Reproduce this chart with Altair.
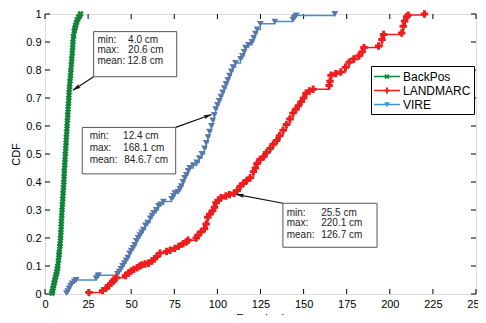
import math
import altair as alt
import pandas as pd

# ---------------- data ----------------
series_names = ["BackPos", "LANDMARC", "VIRE"]

backpos_err = [4.0, 4.3, 4.6, 5.0, 5.3, 5.7, 6.1, 6.5, 6.9, 7.2, 7.4, 7.8, 8.1, 8.3, 8.6,
               8.8, 9.0, 9.2, 9.4, 9.5, 9.7, 9.9, 10.1, 10.3, 10.5, 10.7, 10.9, 11.1, 11.2,
               11.4, 11.6, 11.8, 12.0, 12.2, 12.4, 12.6, 12.8, 13.0, 13.2, 13.4, 13.6, 13.8,
               14.0, 14.2, 14.5, 14.8, 15.0, 15.3, 15.5, 15.8, 16.0, 16.2, 16.5, 17.0, 17.4,
               17.8, 18.3, 18.8, 19.6, 20.6]
backpos_cdf = [0.003, 0.01, 0.02, 0.03, 0.04, 0.05, 0.06, 0.07, 0.08, 0.09, 0.10, 0.12, 0.14,
               0.15, 0.17, 0.18, 0.20, 0.22, 0.24, 0.26, 0.28, 0.30, 0.32, 0.34, 0.36, 0.38,
               0.40, 0.42, 0.44, 0.46, 0.48, 0.50, 0.52, 0.54, 0.56, 0.58, 0.60, 0.62, 0.64,
               0.66, 0.68, 0.70, 0.72, 0.74, 0.76, 0.78, 0.80, 0.82, 0.84, 0.86, 0.88, 0.90,
               0.92, 0.94, 0.95, 0.96, 0.97, 0.98, 0.99, 1.0]

vire_err = [12.4, 13.2, 14.0, 14.8, 15.6, 17.0, 18.1, 29.6, 30.5, 31.0, 42.0, 43.0, 44.0,
            45.0, 46.0, 47.0, 48.0, 49.0, 50.0, 51.0, 52.0, 53.0, 54.0, 55.0, 56.0, 57.0,
            58.2, 59.5, 61.0, 62.0, 63.0, 64.5, 65.8, 67.0, 68.7, 73.4, 74.5, 75.3, 77.0,
            78.2, 79.0, 80.0, 81.0, 82.0, 83.0, 84.0, 86.0, 88.0, 89.5, 91.0, 92.5, 93.5,
            94.5, 95.4, 96.5, 97.3, 98.2, 99.0, 100.0, 101.0, 102.0, 103.0, 104.0, 105.0,
            106.0, 107.0, 108.0, 109.0, 110.5, 113.4, 114.5, 115.5, 116.3, 118.0, 120.0,
            121.0, 122.0, 123.0, 124.9, 133.3, 143.8, 144.5, 145.0, 145.7, 168.1]
vire_cdf = [0.003, 0.01, 0.02, 0.03, 0.038, 0.045, 0.05, 0.056, 0.062, 0.067, 0.072, 0.08,
            0.09, 0.10, 0.11, 0.12, 0.13, 0.145, 0.155, 0.165, 0.175, 0.19, 0.20, 0.21, 0.22,
            0.23, 0.245, 0.255, 0.27, 0.28, 0.29, 0.30, 0.315, 0.32, 0.33, 0.34, 0.35, 0.36,
            0.365, 0.375, 0.385, 0.40, 0.415, 0.425, 0.44, 0.45, 0.46, 0.47, 0.485, 0.50,
            0.52, 0.54, 0.56, 0.58, 0.60, 0.62, 0.64, 0.66, 0.675, 0.69, 0.705, 0.72, 0.735,
            0.75, 0.765, 0.78, 0.795, 0.81, 0.825, 0.84, 0.85, 0.865, 0.88, 0.89, 0.90,
            0.915, 0.93, 0.945, 0.965, 0.973, 0.98, 0.985, 0.99, 0.995, 1.0]

landmarc_err = [25.5, 33.4, 35.3, 37.0, 38.2, 39.2, 40.0, 41.4, 46.7, 48.6, 50.0, 51.5, 53.4,
                55.0, 56.2, 58.0, 60.0, 62.0, 63.5, 64.8, 66.7, 70.5, 72.6, 75.3, 77.5, 80.1,
                82.0, 83.0, 87.7, 88.7, 90.5, 92.5, 93.5, 94.4, 95.5, 97.3, 98.3, 99.2, 100.5,
                102.1, 104.9, 107.0, 109.7, 111.5, 113.3, 115.0, 117.0, 119.0, 120.9, 122.0,
                123.0, 124.7, 126.8, 128.5, 130.6, 132.4, 134.4, 136.0, 138.1, 140.0, 142.0,
                143.8, 145.5, 147.0, 148.6, 150.0, 151.4, 153.3, 155.5, 164.8, 165.3, 165.9,
                168.6, 171.6, 174.3, 176.4, 179.1, 182.1, 184.0, 185.0, 193.5, 195.5, 196.4,
                206.9, 207.8, 208.6, 209.8, 210.7, 220.1]
landmarc_cdf = [0.005, 0.012, 0.02, 0.03, 0.038, 0.045, 0.05, 0.058, 0.066, 0.076, 0.082,
                0.088, 0.094, 0.10, 0.104, 0.107, 0.11, 0.118, 0.126, 0.134, 0.146, 0.152,
                0.156, 0.163, 0.17, 0.18, 0.186, 0.192, 0.20, 0.21, 0.222, 0.233, 0.25, 0.274,
                0.285, 0.297, 0.31, 0.326, 0.335, 0.344, 0.35, 0.355, 0.36, 0.37, 0.385, 0.395,
                0.405, 0.415, 0.437, 0.45, 0.466, 0.48, 0.49, 0.505, 0.52, 0.535, 0.548, 0.565,
                0.585, 0.605, 0.625, 0.646, 0.66, 0.672, 0.687, 0.70, 0.717, 0.725, 0.731,
                0.745, 0.76, 0.781, 0.787, 0.793, 0.81, 0.828, 0.839, 0.851, 0.865, 0.88,
                0.886, 0.909, 0.927, 0.932, 0.956, 0.975, 0.99, 0.996, 1.0]

x_ticks = [0, 25, 50, 75, 100, 125, 150, 175, 200, 225, 250]
y_ticks = [0, 0.1, 0.2, 0.3, 0.4, 0.5, 0.6, 0.7, 0.8, 0.9, 1.0]

ann_label = ["min:", "max:", "mean:"]
ann_values = [["4.0 cm", "20.6 cm", "12.8 cm"],
              ["12.4 cm", "168.1 cm", "84.6.7 cm"],
              ["25.5 cm", "220.1 cm", "126.7 cm"]]

# ---------------- layout / style ----------------
W, H = 431, 280
X_MAX = 250
FONT = "Liberation Sans"
GREEN, RED, BLUE_LINE, BLUE_MARK = "#11853a", "#ee1d1d", "#3a92d8", "#5a77aa"

# annotation boxes in data units: x0, x1, ytop, ybottom
boxes = [(28.2, 76.4, 0.937, 0.776), (21.6, 75.8, 0.595, 0.429), (138.0, 192.6, 0.324, 0.167)]
text_rows_y = [[0.907, 0.870, 0.832], [0.565, 0.522, 0.480], [0.291, 0.252, 0.212]]
label_x = [30.4, 25.9, 140.2]
value_x = [[48.2, 48.2, 47.8], [45.3, 45.3, 45.9], [160.2, 160.2, 160.2]]
# arrows: tail (x, y) -> head (x, y)
arrows = [((28.2, 0.776), (16.2, 0.728)),
          ((75.8, 0.595), (96.6, 0.641)),
          ((138.0, 0.324), (110.8, 0.356))]

xscale = alt.Scale(domain=[0, X_MAX], nice=False, zero=False)
yscale = alt.Scale(domain=[0, 1], nice=False, zero=False)
xaxis = alt.Axis(values=x_ticks, format="d", title="Error (cm)", ticks=False, grid=False,
                 domain=False, labelFlush=False, labelOverlap=False, labelPadding=4,
                 titlePadding=3, labelFont=FONT, titleFont=FONT, labelFontSize=11,
                 titleFontSize=11, titleFontWeight="normal", labelColor="black",
                 titleColor="black")
yaxis = alt.Axis(values=y_ticks, format=".1~f", title="CDF", ticks=False, grid=False,
                 domain=False, labelFlush=False, labelOverlap=False, labelPadding=4,
                 titlePadding=4, labelFont=FONT, titleFont=FONT, labelFontSize=11,
                 titleFontSize=11, titleFontWeight="normal", labelColor="black",
                 titleColor="black")
X = alt.X("x:Q", scale=xscale, axis=xaxis)
Y = alt.Y("y:Q", scale=yscale, axis=yaxis)

layers = []

# inner tick marks (MATLAB style)
xt = alt.Chart(pd.DataFrame({"x": x_ticks}))
yt = alt.Chart(pd.DataFrame({"y": y_ticks}))
layers.append(xt.mark_rule(color="black", strokeWidth=1).encode(x=X, y=alt.value(H), y2=alt.value(H - 5)))
layers.append(xt.mark_rule(color="black", strokeWidth=1).encode(x=X, y=alt.value(0), y2=alt.value(5)))
layers.append(yt.mark_rule(color="black", strokeWidth=1).encode(y=Y, x=alt.value(0), x2=alt.value(5)))
layers.append(yt.mark_rule(color="black", strokeWidth=1).encode(y=Y, x=alt.value(W), x2=alt.value(W - 5)))


def series(err, cdf, line_color, mark_color, shape, size, angle=0, lw=1.5):
    base = alt.Chart(pd.DataFrame({"x": err, "y": cdf}))
    line = base.mark_line(interpolate="step-after", color=line_color, strokeWidth=lw).encode(x=X, y=Y)
    pts = base.mark_point(shape=shape, filled=True, color=mark_color, size=size, opacity=1,
                          angle=angle, strokeWidth=0).encode(x=X, y=Y)
    return [line, pts]


layers += series(backpos_err, backpos_cdf, GREEN, GREEN, "cross", 42, angle=45, lw=3)
layers += series(vire_err, vire_cdf, BLUE_LINE, BLUE_MARK, "triangle-down", 45)
layers += series(landmarc_err, landmarc_cdf, RED, RED, "cross", 55)

# annotation boxes
box_df = pd.DataFrame({"x": [b[0] for b in boxes], "x2": [b[1] for b in boxes],
                       "y": [b[2] for b in boxes], "y2": [b[3] for b in boxes]})
layers.append(alt.Chart(box_df).mark_rect(fill="white", stroke="#555555", strokeWidth=1).encode(
    x=X, x2="x2:Q", y=Y, y2="y2:Q"))

rows = []
for i in range(3):
    for j in range(3):
        rows.append({"x": label_x[i], "y": text_rows_y[i][j], "t": ann_label[j]})
        rows.append({"x": value_x[i][j], "y": text_rows_y[i][j], "t": ann_values[i][j]})
layers.append(alt.Chart(pd.DataFrame(rows)).mark_text(
    align="left", baseline="middle", font=FONT, fontSize=10, color="#222222").encode(
    x=X, y=Y, text="t:N"))

# arrows
arr_rows = []
for (tx, ty), (hx, hy) in arrows:
    dx = (hx - tx) * W / X_MAX
    dy = -(hy - ty) * H
    ang = math.degrees(math.atan2(dx, -dy)) % 360
    arr_rows.append({"x": tx, "y": ty, "x2": hx, "y2": hy, "ang": ang})
arr_df = pd.DataFrame(arr_rows)
layers.append(alt.Chart(arr_df).mark_rule(color="#111111", strokeWidth=1.2).encode(
    x=X, y=Y, x2="x2:Q", y2="y2:Q"))
layers.append(alt.Chart(arr_df).mark_point(
    shape="M0,0L0.55,2L0,1.6L-0.55,2Z", filled=True, color="#111111", size=64, opacity=1,
    strokeWidth=0).encode(
    x=alt.X("x2:Q", scale=xscale, axis=xaxis), y=alt.Y("y2:Q", scale=yscale, axis=yaxis),
    angle=alt.Angle("ang:Q", scale=None)))

# legend (symbols drawn as line + marker)
legend_paths = [
    "M-1,-0.09H2.47V0.09H-1Z M0.54,-0.35L1.08,0.19L0.92,0.35L0.38,-0.19Z "
    "M0.38,0.19L0.92,-0.35L1.08,-0.19L0.54,0.35Z",
    "M-1,-0.1H2.47V0.1H-1Z M0.33,-0.13H1.13V0.13H0.33Z M0.6,-0.4H0.86V0.4H0.6Z",
    "M-1,-0.1H2.47V0.1H-1Z M0.36,-0.3L1.1,-0.3L0.73,0.36Z",
]
leg = alt.Legend(title=None, orient="none", legendX=326, legendY=52, symbolSize=225,
                 symbolStrokeWidth=0, symbolOpacity=1, labelFont=FONT, labelFontSize=12,
                 labelColor="black", labelOffset=14, padding=3, rowPadding=0,
                 strokeColor="black", fillColor="white", cornerRadius=0)
leg_df = pd.DataFrame({"series": series_names})
layers.append(alt.Chart(leg_df).transform_filter("false").mark_point(filled=True, opacity=1).encode(
    color=alt.Color("series:N", scale=alt.Scale(domain=series_names, range=[GREEN, RED, BLUE_LINE]), legend=leg),
    shape=alt.Shape("series:N", scale=alt.Scale(domain=series_names, range=legend_paths), legend=leg)))

chart = alt.layer(*layers).properties(
    width=W, height=H,
    autosize=alt.AutoSizeParams(type="none"),
    padding={"left": 37, "top": 6, "right": 2, "bottom": 21},
).configure_view(stroke="#222222", strokeWidth=1).configure(background="white")

chart.save("out.html", embed_options={"renderer": "svg", "actions": False})
